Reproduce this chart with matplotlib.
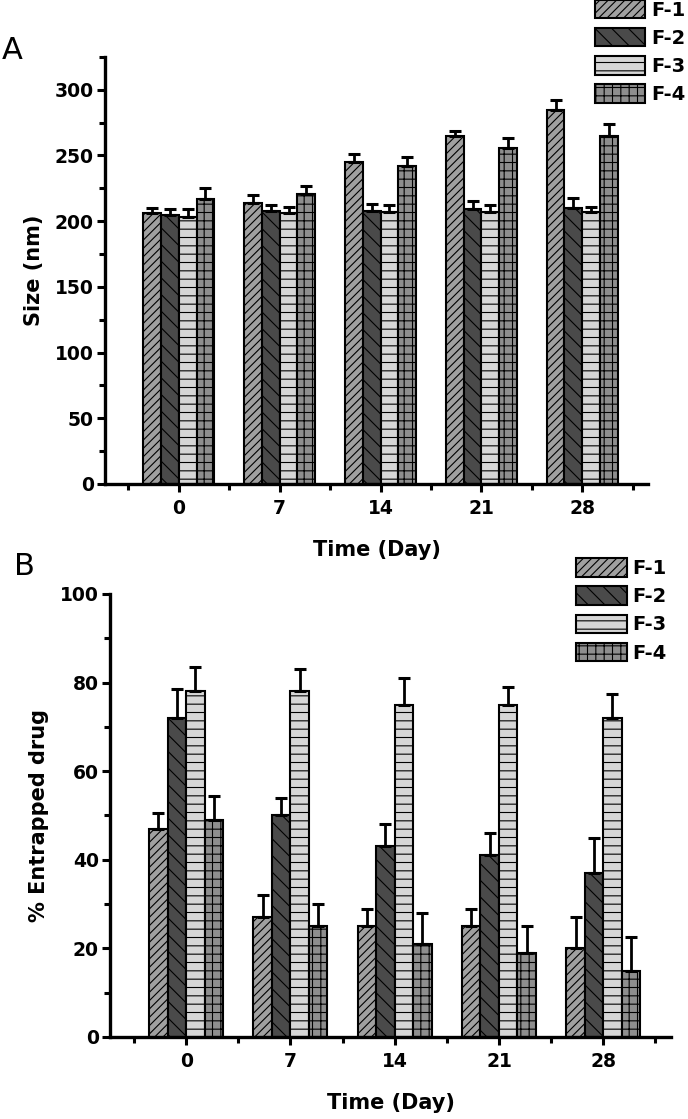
import numpy as np
import matplotlib
matplotlib.use("Agg")
import matplotlib.pyplot as plt
from matplotlib.patches import Patch
from matplotlib.ticker import MultipleLocator

plt.rcParams['font.family'] = 'DejaVu Sans'
plt.rcParams['font.weight'] = 'bold'
plt.rcParams['hatch.linewidth'] = 0.8

days = ['0', '7', '14', '21', '28']
names = ['F-1', 'F-2', 'F-3', 'F-4']

# panel A: particle size (nm)
size_f1 = [206, 214, 245, 265, 285]
size_f2 = [205, 208, 208, 209, 210]
size_f3 = [203, 206, 207, 207, 207]
size_f4 = [217, 221, 242, 256, 265]
size_err_f1 = [4, 6, 6, 4, 7]
size_err_f2 = [4, 4, 5, 6, 8]
size_err_f3 = [6, 5, 5, 5, 4]
size_err_f4 = [8, 6, 7, 7, 9]

# panel B: % entrapped drug
ent_f1 = [47, 27, 25, 25, 20]
ent_f2 = [72, 50, 43, 41, 37]
ent_f3 = [78, 78, 75, 75, 72]
ent_f4 = [49, 25, 21, 19, 15]
ent_err_f1 = [3.5, 5, 4, 4, 7]
ent_err_f2 = [6.5, 4, 5, 5, 8]
ent_err_f3 = [5.5, 5, 6, 4, 5.5]
ent_err_f4 = [5.5, 5, 7, 6, 7.5]

colors = ['#a0a0a0', '#4a4a4a', '#d6d6d6', '#8e8e8e']
hatches = ['////', '\\\\', '--', '++']
w = 0.177
x = np.arange(len(days))

fig = plt.figure(figsize=(6.88, 11.19), dpi=100)
axA = fig.add_axes([0.1526, 0.5675, 0.7892, 0.3816])
axB = fig.add_axes([0.1599, 0.0733, 0.8154, 0.3959])


def draw(ax, vals, errs, ylim, major, minor, ylabel):
    for i in range(4):
        ax.bar(x + (i - 1.5) * w, vals[i], w, color=colors[i], hatch=hatches[i],
               edgecolor='black', linewidth=1.5,
               yerr=[np.zeros(5), errs[i]], capsize=4,
               error_kw=dict(elinewidth=2, capthick=2.2, ecolor='black'))
    ax.set_xlim(-0.73, 4.65)
    ax.set_ylim(*ylim)
    ax.spines['top'].set_visible(False)
    ax.spines['right'].set_visible(False)
    ax.spines['left'].set_linewidth(2.4)
    ax.spines['bottom'].set_linewidth(2.4)
    ax.set_xticks(x)
    ax.set_xticklabels(days)
    ax.set_xticks(np.arange(-0.5, 5, 1), minor=True)
    ax.yaxis.set_major_locator(MultipleLocator(major))
    ax.yaxis.set_minor_locator(MultipleLocator(minor))
    ax.tick_params(which='major', length=6, width=2.2, labelsize=13.5, pad=2)
    ax.tick_params(which='minor', length=4, width=2.2)
    ax.tick_params(axis='x', which='major', pad=5)
    ax.set_xlabel('Time (Day)', fontsize=15, fontweight='bold', labelpad=16)
    ax.set_ylabel(ylabel, fontsize=15, fontweight='bold', labelpad=8)


draw(axA, [size_f1, size_f2, size_f3, size_f4],
     [size_err_f1, size_err_f2, size_err_f3, size_err_f4],
     (0, 325), 50, 25, 'Size (nm)')
draw(axB, [ent_f1, ent_f2, ent_f3, ent_f4],
     [ent_err_f1, ent_err_f2, ent_err_f3, ent_err_f4],
     (0, 100), 20, 10, '% Entrapped drug')

handles = [Patch(facecolor=colors[i], hatch=hatches[i], edgecolor='black',
                 linewidth=1.5) for i in range(4)]
legA = fig.legend(handles, names, loc='upper right', bbox_to_anchor=(0.999, 1.002),
                  frameon=False, fontsize=14, handlelength=2.6, handleheight=1.1,
                  labelspacing=0.42, handletextpad=0.3, borderaxespad=0, borderpad=0.1)
legB = fig.legend(handles, names, loc='upper left', bbox_to_anchor=(0.826, 0.508),
                  frameon=False, fontsize=14, handlelength=2.6, handleheight=1.1,
                  labelspacing=0.42, handletextpad=0.3, borderaxespad=0)

fig.text(0.003, 0.955, 'A', fontsize=22, fontweight='normal', va='center')
fig.text(0.02, 0.494, 'B', fontsize=22, fontweight='normal', va='center')

fig.savefig('out.png', dpi=100)
